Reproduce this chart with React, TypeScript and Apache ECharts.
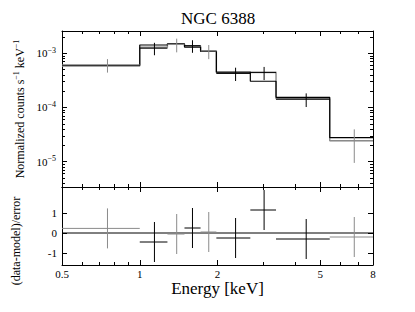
import React, { useEffect, useRef } from "react";
import * as echarts from "echarts";

const FONT = '"Liberation Serif", "Times New Roman", serif';
const BLACK = "#000000";
const GRAY = "#8a8a8a";

// axis ticks (keV / counts)
const energyLabels = [0.5, 1, 2, 5, 8];
const energyMajorTicks = [1, 2, 5];
const energyMinorTicks = [0.6, 0.7, 0.8, 0.9, 3, 4, 6, 7];
const fluxDecades = [1e-5, 1e-4, 1e-3];
const fluxMinorMantissa = [2, 3, 4, 5, 6, 7, 8, 9];
const fluxMinorDecades = [1e-6, 1e-5, 1e-4, 1e-3];
const residTicks = [-1, 0, 1];

// black spectrum data points
const blackE = [1.14, 1.6, 2.35, 3.03, 4.41];
const blackELo = [1.0, 1.49, 1.98, 2.68, 3.37];
const blackEHi = [1.28, 1.72, 2.68, 3.37, 5.44];
const blackFlux = [1.24e-3, 1.38e-3, 4.25e-4, 4.4e-4, 1.42e-4];
const blackErr = [3.2e-4, 3.6e-4, 1.17e-4, 1.2e-4, 4.0e-5];
const blackResid = [-0.45, 0.25, -0.25, 1.15, -0.3];

// gray spectrum data points
const grayE = [0.75, 1.39, 1.85, 6.77];
const grayELo = [0.5, 1.28, 1.72, 5.44];
const grayEHi = [1.0, 1.49, 1.98, 8.0];
const grayFlux = [6.1e-4, 1.45e-3, 1.1e-3, 2.45e-5];
const grayErr = [1.7e-4, 4.1e-4, 3.2e-4, 1.5e-5];
const grayResid = [0.23, -0.05, 0.05, -0.2];

// folded models (step histograms)
const modelEdges = [0.5, 1.0, 1.28, 1.49, 1.72, 1.98, 2.68, 3.37, 5.44, 8.0];
const blackModel = [6.0e-4, 1.42e-3, 1.5e-3, 1.3e-3, 1.08e-3, 4.5e-4, 3.05e-4, 1.54e-4, 2.77e-5];
const grayModel = [5.8e-4, 1.29e-3, 1.46e-3, 1.38e-3, 1.1e-3, 4.35e-4, 4.5e-4, 1.45e-4, 2.44e-5];

const lg = (v: number) => Math.log10(v);
const XMIN = lg(0.5);
const XMAX = lg(8);
const YMIN = -5.467;
const YMAX = -2.589;
const RMIN = -1.6;
const RMAX = 2.3;

const supDigits: Record<string, string> = { "-": "\u2212" };

function expLabel(v: number) {
  const n = Math.round(v);
  const s = String(n).split("").map((c) => supDigits[c] || c).join("");
  return `{b|10}{s|${s}}`;
}

function stepData(levels: number[]) {
  const d: number[][] = levels.map((l, i) => [lg(modelEdges[i]), lg(l)]);
  d.push([lg(modelEdges[modelEdges.length - 1]), lg(levels[levels.length - 1])]);
  return d;
}

function crossSeries(
  name: string,
  color: string,
  e: number[],
  lo: number[],
  hi: number[],
  y: number[],
  yTop: number[],
  yBot: number[],
  xIdx: number,
  yIdx: number
) {
  const data = e.map((v, i) => [v, lo[i], hi[i], y[i], yTop[i], yBot[i]]);
  return {
    type: "custom",
    name,
    xAxisIndex: xIdx,
    yAxisIndex: yIdx,
    clip: true,
    z: 5,
    data,
    encode: { x: 0, y: 3 },
    renderItem: (params: any, api: any) => {
      const a = api.coord([api.value(1), api.value(3)]);
      const b = api.coord([api.value(2), api.value(3)]);
      const t = api.coord([api.value(0), api.value(4)]);
      const u = api.coord([api.value(0), api.value(5)]);
      const st = { stroke: color, lineWidth: 1 };
      return {
        type: "group",
        children: [
          { type: "line", shape: { x1: a[0], y1: a[1], x2: b[0], y2: b[1] }, style: st },
          { type: "line", shape: { x1: t[0], y1: t[1], x2: u[0], y2: u[1] }, style: st },
        ],
      };
    },
  };
}

export default function App() {
  const ref = useRef<HTMLDivElement>(null);
  useEffect(() => {
    if (!ref.current) return;
    const chart = echarts.init(ref.current, null, { renderer: "svg" });

    const xMajor = energyMajorTicks.map(lg);
    const xMinor = energyMinorTicks.map(lg);
    const yMajor = fluxDecades.map(lg);
    const yMinor: number[] = [];
    fluxMinorDecades.forEach((d) =>
      fluxMinorMantissa.forEach((m) => {
        const v = lg(m * d);
        if (v > YMIN && v < YMAX) yMinor.push(v);
      })
    );

    const lineStyle = { color: BLACK, width: 1 };
    const xAxes: any[] = [];
    const yAxes: any[] = [];
    [0, 1].forEach((g) => {
      ["bottom", "top"].forEach((pos) => {
        [true, false].forEach((major) => {
          const showLabel = g === 1 && pos === "bottom" && major;
          xAxes.push({
            type: "value",
            gridIndex: g,
            position: pos,
            min: XMIN,
            max: XMAX,
            axisLine: { show: major, onZero: false, lineStyle },
            axisTick: {
              show: true,
              inside: true,
              length: major ? 5 : 3,
              customValues: major ? xMajor : xMinor,
              lineStyle,
            },
            axisLabel: {
              show: showLabel,
              customValues: energyLabels.map(lg),
              formatter: (v: number) => String(+Math.pow(10, v).toPrecision(3)),
              fontFamily: FONT,
              fontSize: 11,
              color: BLACK,
              margin: 3,
            },
            splitLine: { show: false },
            name: showLabel ? "Energy [keV]" : "",
            nameLocation: "middle",
            nameGap: 15,
            nameTextStyle: { fontFamily: FONT, fontSize: 17, color: BLACK },
          });
        });
      });
      ["left", "right"].forEach((pos) => {
        [true, false].forEach((major) => {
          const showLabel = pos === "left" && major;
          const isTop = g === 0;
          const axis: any = {
            type: "value",
            gridIndex: g,
            position: pos,
            min: isTop ? YMIN : RMIN,
            max: isTop ? YMAX : RMAX,
            axisLine: { show: major, onZero: false, lineStyle },
            axisTick: {
              show: isTop || major,
              inside: true,
              length: major ? 5 : 3,
              customValues: isTop ? (major ? yMajor : yMinor) : residTicks,
              lineStyle,
            },
            axisLabel: {
              show: showLabel,
              customValues: isTop ? yMajor : residTicks,
              formatter: isTop ? expLabel : (v: number) => String(v),
              fontFamily: FONT,
              fontSize: 11,
              color: BLACK,
              margin: isTop ? 6 : 5,
              rich: {
                b: { fontFamily: FONT, fontSize: 11, color: BLACK },
                s: { fontFamily: FONT, fontSize: 8, color: BLACK, verticalAlign: "top", padding: [0, 0, 6, 0] },
              },
            },
            splitLine: { show: false },
          };
          if (showLabel) {
            axis.nameLocation = "middle";
            if (isTop) {
              axis.name = "Normalized counts s{s|\u22121} keV{s|\u22121}";
              axis.nameGap = 29;
            } else {
              axis.name = "(data-model)/error";
              axis.nameGap = 40;
            }
            axis.nameTextStyle = {
              fontFamily: FONT,
              fontSize: 12,
              color: BLACK,
              padding: isTop ? [0, 0, 0, 0] : [0, 30, 0, 0],
              rich: {
                s: { fontFamily: FONT, fontSize: 8, color: BLACK, verticalAlign: "top", padding: [0, 0, 6, 0] },
              },
            };
          }
          yAxes.push(axis);
        });
      });
    });

    const series: any[] = [
      {
        type: "line",
        name: "gray model",
        xAxisIndex: 0,
        yAxisIndex: 0,
        step: "end",
        symbol: "none",
        data: stepData(grayModel),
        lineStyle: { color: GRAY, width: 1.4 },
        z: 3,
      },
      {
        type: "line",
        name: "black model",
        xAxisIndex: 0,
        yAxisIndex: 0,
        step: "end",
        symbol: "none",
        data: stepData(blackModel),
        lineStyle: { color: BLACK, width: 1.2 },
        z: 4,
      },
      crossSeries(
        "gray data", GRAY, grayE.map(lg), grayELo.map(lg), grayEHi.map(lg), grayFlux.map(lg),
        grayFlux.map((f, i) => lg(f + grayErr[i])), grayFlux.map((f, i) => lg(f - grayErr[i])), 0, 0
      ),
      crossSeries(
        "black data", BLACK, blackE.map(lg), blackELo.map(lg), blackEHi.map(lg), blackFlux.map(lg),
        blackFlux.map((f, i) => lg(f + blackErr[i])), blackFlux.map((f, i) => lg(f - blackErr[i])), 0, 0
      ),
      {
        type: "line",
        name: "zero",
        xAxisIndex: 4,
        yAxisIndex: 4,
        symbol: "none",
        data: [[XMIN, 0], [XMAX, 0]],
        lineStyle: { color: BLACK, width: 1 },
        z: 3,
      },
      crossSeries(
        "gray resid", GRAY, grayE.map(lg), grayELo.map(lg), grayEHi.map(lg), grayResid,
        grayResid.map((r) => r + 1), grayResid.map((r) => r - 1), 4, 4
      ),
      crossSeries(
        "black resid", BLACK, blackE.map(lg), blackELo.map(lg), blackEHi.map(lg), blackResid,
        blackResid.map((r) => r + 1), blackResid.map((r) => r - 1), 4, 4
      ),
    ];

    chart.setOption({
      animation: false,
      backgroundColor: "#ffffff",
      title: {
        text: "NGC 6388",
        left: 181,
        top: 10,
        padding: 0,
        textStyle: { fontFamily: FONT, fontSize: 17, fontWeight: "normal", color: BLACK },
      },
      grid: [
        { left: 62, right: 42, top: 31, height: 156 },
        { left: 62, right: 42, top: 187, height: 78 },
      ],
      xAxis: xAxes,
      yAxis: yAxes,
      series,
    });
    return () => chart.dispose();
  }, []);
  return (
    <div
      ref={ref}
      style={{ position: "fixed", left: 0, top: 0, width: 415, height: 312, background: "#fff" }}
    />
  );
}
